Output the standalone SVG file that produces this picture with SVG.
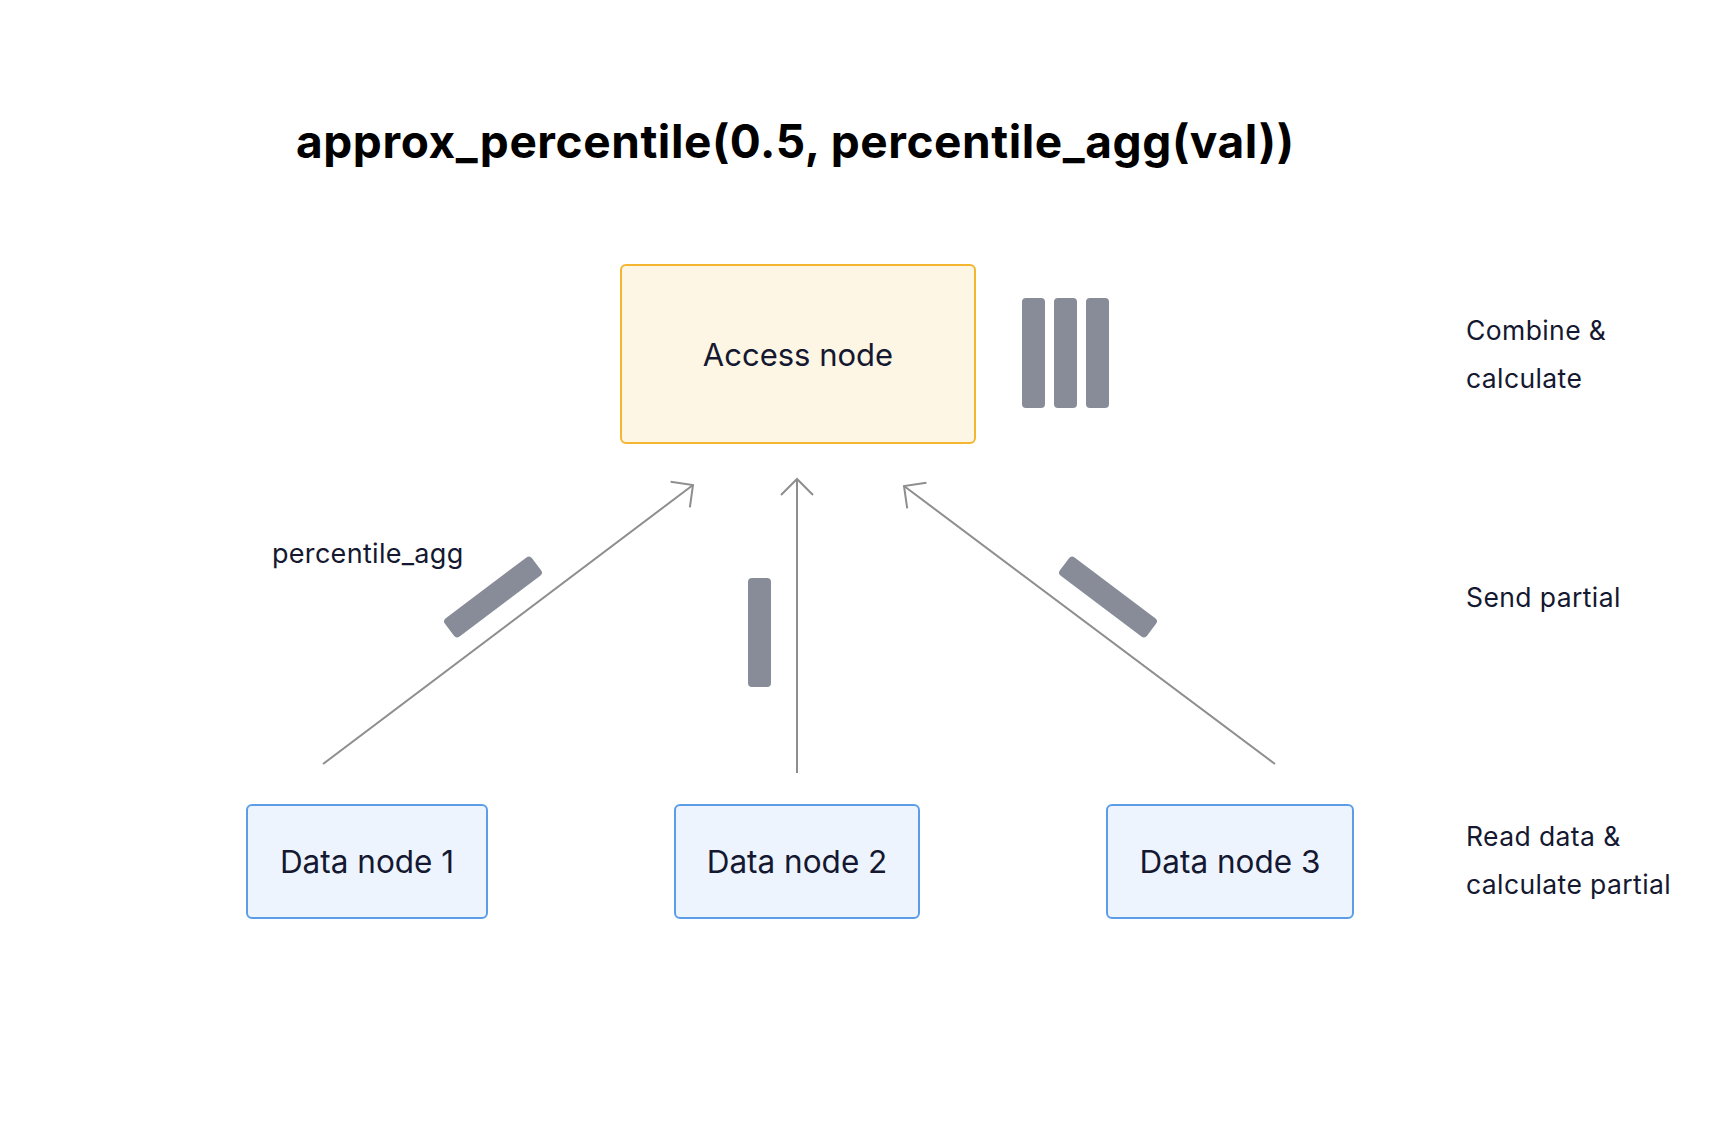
<svg xmlns="http://www.w3.org/2000/svg" width="1732" height="1126" viewBox="0 0 1732 1126">
<defs>
<style>
.t{font-family:Inter,"Liberation Sans",sans-serif;fill:#141830}
.node{font-size:31.5px}
.lbl{font-size:26.5px;letter-spacing:0.4px}
.bar{fill:#878c98}
.edge{stroke:#8e8e8e;stroke-width:2;fill:none}
</style>
<marker id="ah" viewBox="-20 -20 24 40" markerWidth="24" markerHeight="40" refX="0" refY="0" orient="auto" markerUnits="userSpaceOnUse">
<path d="M-16,-16 L0,0 L-16,16" fill="none" stroke="#8e8e8e" stroke-width="2"/>
</marker>
</defs>
<rect width="1732" height="1126" fill="#ffffff"/>
<text x="296" y="158" font-family="Inter,'Liberation Sans',sans-serif" fill="#000000" font-size="46" font-weight="700" textLength="998" lengthAdjust="spacing">approx_percentile(0.5, percentile_agg(val))</text>
<g id="connectors">
<line class="edge" x1="323" y1="764" x2="693" y2="485" marker-end="url(#ah)"/>
<line class="edge" x1="797" y1="773" x2="797" y2="479" marker-end="url(#ah)"/>
<line class="edge" x1="1275" y1="764" x2="904" y2="486" marker-end="url(#ah)"/>
</g>
<g id="access-node">
<rect x="621" y="265" width="354" height="178" rx="5" fill="#fef6e5" stroke="#f4b52f" stroke-width="2"/>
<text class="t node" x="798" y="366" text-anchor="middle" style="font-size:31px">Access node</text>
</g>
<g id="combined-bars">
<rect class="bar" x="1022" y="298" width="23" height="110" rx="4"/>
<rect class="bar" x="1054" y="298" width="23" height="110" rx="4"/>
<rect class="bar" x="1086" y="298" width="23" height="110" rx="4"/>
</g>
<g id="partial-bars">
<rect class="bar" x="-11.5" y="-54.5" width="23" height="109" rx="4" transform="translate(493,597) rotate(53)"/>
<rect class="bar" x="748" y="578" width="23" height="109" rx="4"/>
<rect class="bar" x="-11.5" y="-54.5" width="23" height="109" rx="4" transform="translate(1108,597) rotate(-53)"/>
</g>
<g id="label-percentile-agg">
<text class="t lbl" x="272" y="563" style="font-size:27px;letter-spacing:0.3px">percentile_agg</text>
</g>
<g id="data-node-1">
<rect x="247" y="805" width="240" height="113" rx="5" fill="#edf4fe" stroke="#5c9de8" stroke-width="2"/>
<text class="t node" x="367" y="873" text-anchor="middle">Data node 1</text>
</g>
<g id="data-node-2">
<rect x="675" y="805" width="244" height="113" rx="5" fill="#edf4fe" stroke="#5c9de8" stroke-width="2"/>
<text class="t node" x="797" y="873" text-anchor="middle">Data node 2</text>
</g>
<g id="data-node-3">
<rect x="1107" y="805" width="246" height="113" rx="5" fill="#edf4fe" stroke="#5c9de8" stroke-width="2"/>
<text class="t node" x="1230" y="873" text-anchor="middle">Data node 3</text>
</g>
<g id="stage-labels">
<text class="t lbl" x="1466" y="340">Combine &amp;</text>
<text class="t lbl" x="1466" y="388">calculate</text>
<text class="t lbl" x="1466" y="607">Send partial</text>
<text class="t lbl" x="1466" y="846">Read data &amp;</text>
<text class="t lbl" x="1466" y="894">calculate partial</text>
</g>
</svg>
